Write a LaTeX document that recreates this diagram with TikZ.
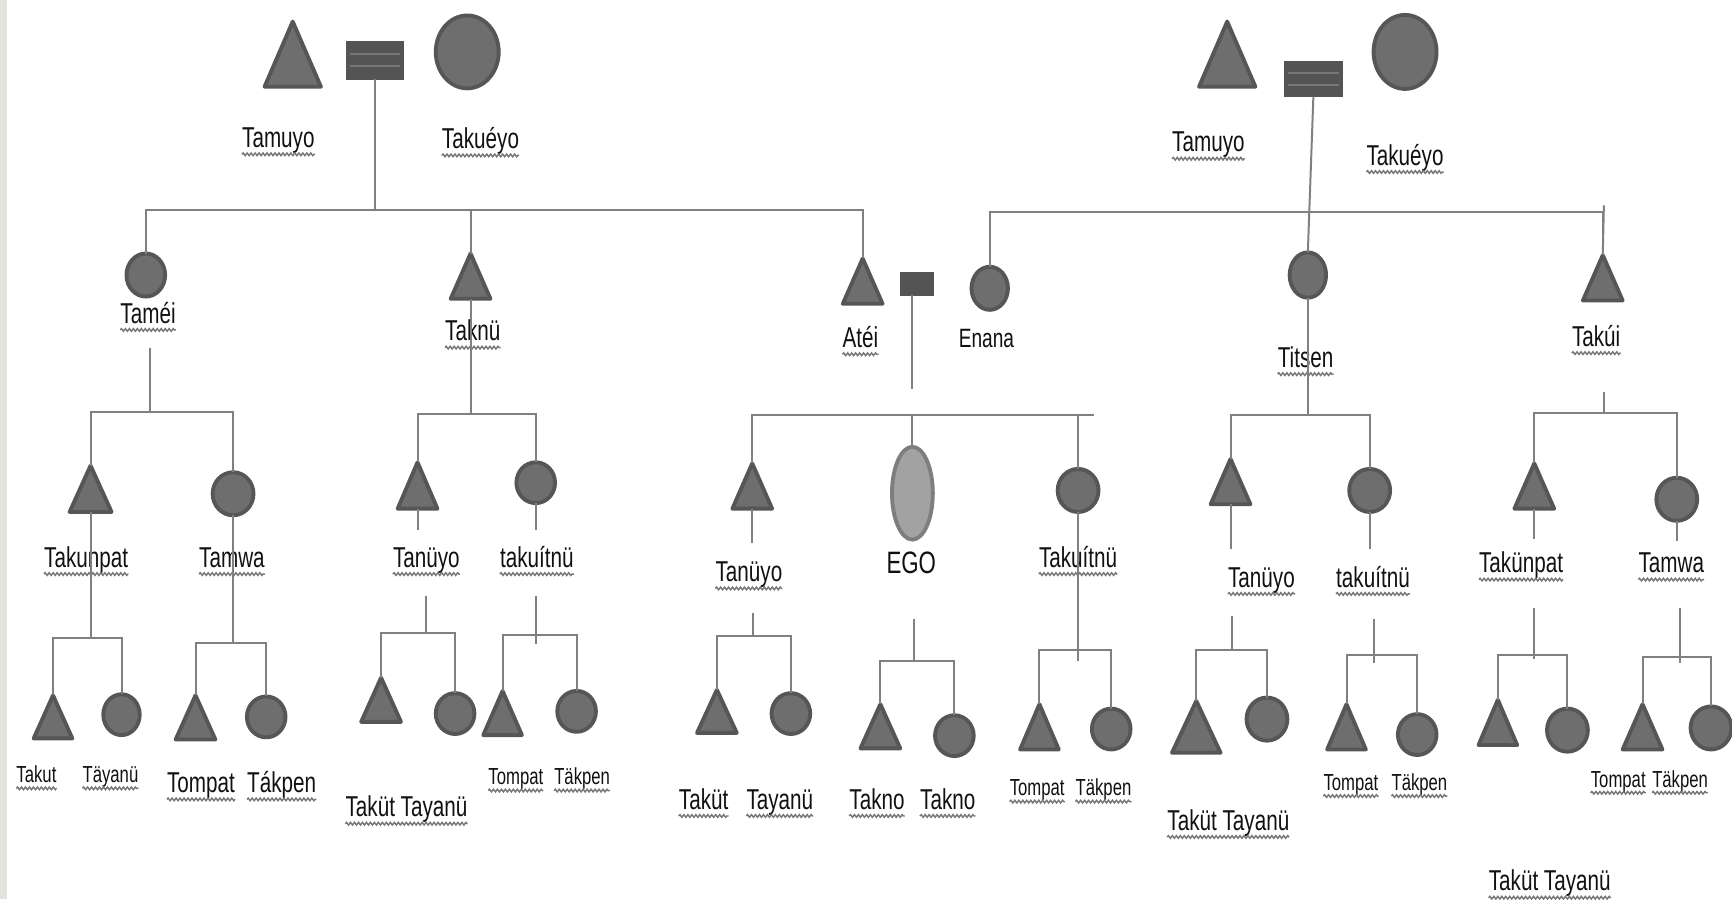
\documentclass[tikz,border=0pt]{standalone}
\usepackage{fontspec}
\setmainfont{Liberation Sans}[FakeStretch=0.72]
\usetikzlibrary{shapes.geometric,decorations.pathmorphing}
\definecolor{shf}{HTML}{6E6E6E}
\definecolor{shd}{HTML}{565656}
\definecolor{lnc}{HTML}{808080}
\definecolor{mrf}{HTML}{545454}
\definecolor{mrl}{HTML}{767676}
\definecolor{egof}{HTML}{A2A2A2}
\definecolor{egod}{HTML}{7E7E7E}
\definecolor{txt}{HTML}{111111}
\definecolor{wav}{HTML}{777777}
\definecolor{strip}{HTML}{E4E4DE}
\newcommand\PTri[5]{\node[pers,minimum width=#4pt,minimum height=#5pt] (#1) at (#2,#3) {};
  \draw[tristy] (#1.south west) -- (#1.north) -- (#1.south east) -- cycle;}
\newcommand\PCir[5]{\node[circ,minimum width=#4pt,minimum height=#5pt] (#1) at (#2,#3) {};}
\newcommand\PFam[3]{\draw[ln] (#2.north) |- (#3.north |- #1) -- (#3.north);}
\begin{document}
\begin{tikzpicture}[x=1pt,y=-1pt,
  pers/.style={rectangle,inner sep=0pt,outer sep=0pt},
  tristy/.style={fill=shf,draw=shd,line width=3.5pt,line join=round},
  circ/.style={ellipse,inner sep=0pt,outer sep=0pt,fill=shf,draw=shd,line width=3.5pt},
  marr/.style={rectangle,inner sep=0pt,outer sep=0pt,fill=mrf,draw=mrf,line width=1pt},
  marrline/.style={draw=mrl,line width=1.8pt},
  ln/.style={draw=lnc,line width=1.8pt},
  wavy/.style={draw=wav,line width=1.3pt,decorate,decoration={snake,amplitude=1.2pt,segment length=3.6pt}},
  lab/.style={font=\fontsize{26}{28}\selectfont,text=txt,inner sep=0pt,text height=18pt,text depth=5pt},
  slab/.style={font=\fontsize{21}{23}\selectfont,text=txt,inner sep=0pt,text height=15pt,text depth=4pt},
  ul/.style={append after command={\pgfextra{\let\ulnode\tikzlastnode}
     ([yshift=-1pt]\ulnode.south west) edge[wavy] ([yshift=-1pt]\ulnode.south east)}},
]
\path[use as bounding box,fill=white] (0,0) rectangle (1568,814);
\fill[strip] (0,0) rectangle (6,814);

% ---------- top-left couple
\PTri{gfL}{265}{49}{51}{59}
\node[marr,minimum width=52pt,minimum height=34pt] (mL) at (339.5,54.5) {};
\draw[marrline] ([xshift=3pt,yshift=5.5pt]mL.west) -- ([xshift=-3pt,yshift=5.5pt]mL.east);
\draw[marrline] ([xshift=3pt,yshift=-5.5pt]mL.west) -- ([xshift=-3pt,yshift=-5.5pt]mL.east);
\PCir{gmL}{423}{47}{57}{66}
\node[lab,ul] (tGfL) at (252,127) {Tamuyo};
\node[lab,ul] (tGmL) at (435,128) {Takuéyo};

% ---------- top-right couple
\PTri{gfR}{1111}{49}{51}{59}
\node[marr,minimum width=52pt,minimum height=32pt] (mR) at (1189,71.5) {};
\draw[marrline] ([xshift=3pt,yshift=5.5pt]mR.west) -- ([xshift=-3pt,yshift=5.5pt]mR.east);
\draw[marrline] ([xshift=3pt,yshift=-5.5pt]mR.west) -- ([xshift=-3pt,yshift=-5.5pt]mR.east);
\PCir{gmR}{1272}{47}{57}{67}
\node[lab,ul] (tGfR) at (1094,131) {Tamuyo};
\node[lab,ul] (tGmR) at (1272,143) {Takuéyo};

% ---------- level 2
\PCir{tamei}{132}{249}{35}{39}
\PTri{taknu}{426}{250}{36}{41}
\PTri{atei}{781}{254.5}{36}{41}
\node[marr,minimum width=30pt,minimum height=21pt] (mC) at (830.5,257) {};
\PCir{enana}{896}{261}{33}{39}
\PCir{titsen}{1184}{249}{33}{41}
\PTri{takui}{1451}{251.5}{36}{41}
\node[lab,ul] (tTamei) at (134,286) {Taméi};
\node[lab,ul] (tTaknu) at (428,302) {Taknü};
\node[lab,ul] (tAtei) at (779,308) {Atéi};
\node[lab,font=\fontsize{24}{26}\selectfont] (tEnana) at (893,308) {Enana};
\node[lab,ul] (tTitsen) at (1182,326) {Titsen};
\node[lab,ul] (tTakui) at (1445,307) {Takúi};

\coordinate (b1) at (339,190);
\draw[ln] (mL.south) -- (mL.south |- b1);
\PFam{b1}{tamei}{atei}
\draw[ln] (taknu.north) -- (taknu.north |- b1);
\coordinate (b2) at (1186,192);
\coordinate (b2s) at (1452,186);
\draw[ln] (mR.south) -- (titsen.north);
\PFam{b2}{enana}{takui}
\draw[ln] (b2s) -- (takui.north);

% ---------- group A (Tamei)
\coordinate (a0) at (136,315); \coordinate (bA) at (136,373);
\draw[ln] (a0) -- (bA);
\PTri{takunpat}{82}{442.5}{38}{42}
\PCir{tamwaA}{211}{447}{37}{39}
\PFam{bA}{takunpat}{tamwaA}
\node[lab,ul] (tTakunpat) at (78,507) {Takunpat};
\node[lab,ul] (tTamwaA) at (210,507) {Tamwa};
\coordinate (bA1) at (82,578);
\draw[ln] (takunpat.south) -- (bA1);
\PTri{takut}{48}{649}{35}{39}
\PCir{tayanuA}{110}{647}{33}{37}
\PFam{bA1}{takut}{tayanuA}
\coordinate (bA2) at (211,582);
\draw[ln] (tamwaA.south) -- (bA2);
\PTri{tompatA}{177}{649.5}{36}{40}
\PCir{takpenA}{241}{649}{35}{37}
\PFam{bA2}{tompatA}{takpenA}
\node[slab,ul] (tTakut) at (33,703) {Takut};
\node[slab,ul] (tTayanuA) at (100,703) {Täyanü};
\node[lab,ul] (tTompatA) at (182,711) {Tompat};
\node[lab,ul] (tTakpenA) at (255,711) {Tákpen};

% ---------- group B (Taknu)
\coordinate (bB) at (426,375);
\draw[ln] (taknu.south) -- (bB);
\PTri{tanuyoB}{378}{439.5}{36}{42}
\PCir{takuitnuB}{485}{437}{35}{37}
\PFam{bB}{tanuyoB}{takuitnuB}
\coordinate (sB1) at (378,480); \coordinate (sB2) at (485,480);
\draw[ln] (tanuyoB.south) -- (sB1);
\draw[ln] (takuitnuB.south) -- (sB2);
\node[lab,ul] (tTanuyoB) at (386,507) {Tanüyo};
\node[lab,ul] (tTakuitnuB) at (486,507) {takuítnü};
\coordinate (vB1) at (386,540); \coordinate (bB1) at (386,573);
\draw[ln] (vB1) -- (bB1);
\PTri{takutB}{345}{633.5}{36}{40}
\PCir{tayanuB}{412}{646}{35}{37}
\PFam{bB1}{takutB}{tayanuB}
\node[lab,ul] (tTakutB) at (368,733) {Taküt Tayanü};
\coordinate (vB2) at (485,540); \coordinate (bB2) at (485,575); \coordinate (vB2e) at (485,583);
\draw[ln] (vB2) -- (vB2e);
\PTri{tompatB}{455}{645.5}{35}{40}
\PCir{takpenB}{522}{644}{35}{37}
\PFam{bB2}{tompatB}{takpenB}
\node[slab,ul] (tTompatB) at (467,705) {Tompat};
\node[slab,ul] (tTakpenB) at (527,705) {Täkpen};

% ---------- group C (Atei + Enana)
\coordinate (cC) at (826,352); \coordinate (bC) at (826,376); \coordinate (bCe) at (990,376);
\draw[ln] (mC.south -| cC) -- (cC);
\PTri{tanuyoC}{681}{440}{36}{41}
\node[circ,fill=egof,draw=egod,minimum width=37pt,minimum height=84pt] (ego) at (826,446.5) {};
\PCir{takuitnuC}{976}{444}{37}{39}
\draw[ln] (tanuyoC.north) |- (bCe);
\draw[ln] (bC) -- (ego.north);
\draw[ln] (takuitnuC.north) -- (takuitnuC.north |- bC);
\coordinate (sC1) at (681,492);
\draw[ln] (tanuyoC.south) -- (sC1);
\node[lab,ul] (tTanuyoC) at (678,520) {Tanüyo};
\node[lab,font=\fontsize{28}{30}\selectfont] (tEgo) at (825,513) {EGO};
\node[lab,ul] (tTakuitnuC) at (976,507) {Takuítnü};
\coordinate (vC1) at (682,555); \coordinate (bC1) at (682,576);
\draw[ln] (vC1) -- (bC1);
\PTri{takutC}{649}{644}{36}{39}
\PCir{tayanuC}{716}{646}{35}{37}
\PFam{bC1}{takutC}{tayanuC}
\node[lab,ul] (tTakutC) at (637,726) {Taküt};
\node[lab,ul] (tTayanuC) at (706,726) {Tayanü};
\coordinate (vC2) at (827,560); \coordinate (bC2) at (827,598);
\draw[ln] (vC2) -- (bC2);
\PTri{takno1}{797}{657.5}{36}{40}
\PCir{takno2}{864}{666}{35}{37}
\PFam{bC2}{takno1}{takno2}
\node[lab,ul] (tTakno1) at (794,726) {Takno};
\node[lab,ul] (tTakno2) at (858,726) {Takno};
\coordinate (bC3) at (976,588); \coordinate (bC3e) at (976,598);
\draw[ln] (takuitnuC.south) -- (bC3e);
\PTri{tompatC}{941}{658}{35}{41}
\PCir{takpenC}{1006}{660}{35}{37}
\PFam{bC3}{tompatC}{takpenC}
\node[slab,ul] (tTompatC) at (939,715) {Tompat};
\node[slab,ul] (tTakpenC) at (999,715) {Täkpen};

% ---------- group D (Titsen)
\coordinate (bD) at (1184,376);
\draw[ln] (titsen.south) -- (bD);
\PTri{tanuyoD}{1114}{436}{36}{41}
\PCir{takuitnuD}{1240}{444}{37}{39}
\PFam{bD}{tanuyoD}{takuitnuD}
\coordinate (sD1) at (1114,497); \coordinate (sD2) at (1240,497);
\draw[ln] (tanuyoD.south) -- (sD1);
\draw[ln] (takuitnuD.south) -- (sD2);
\node[lab,ul] (tTanuyoD) at (1142,525) {Tanüyo};
\node[lab,ul] (tTakuitnuD) at (1243,525) {takuítnü};
\coordinate (vD1) at (1115,558); \coordinate (bD1) at (1115,588);
\draw[ln] (vD1) -- (bD1);
\PTri{takutD}{1083}{658}{44}{47}
\PCir{tayanuD}{1147}{651}{37}{39}
\PFam{bD1}{takutD}{tayanuD}
\node[lab,ul] (tTakutD) at (1112,745) {Taküt Tayanü};
\coordinate (vD2) at (1244,560); \coordinate (bD2) at (1244,593); \coordinate (vD2e) at (1244,600);
\draw[ln] (vD2) -- (vD2e);
\PTri{tompatD}{1219}{658}{35}{41}
\PCir{takpenD}{1283}{665}{35}{37}
\PFam{bD2}{tompatD}{takpenD}
\node[slab,ul] (tTompatD) at (1223,710) {Tompat};
\node[slab,ul] (tTakpenD) at (1285,710) {Täkpen};

% ---------- group E (Takui)
\coordinate (sE0) at (1452,355); \coordinate (bE) at (1452,374);
\draw[ln] (sE0) -- (bE);
\PTri{takunpatE}{1389}{440}{36}{41}
\PCir{tamwaE}{1518}{452}{37}{39}
\PFam{bE}{takunpatE}{tamwaE}
\coordinate (sE1) at (1389,488); \coordinate (sE2) at (1518,490);
\draw[ln] (takunpatE.south) -- (sE1);
\draw[ln] (tamwaE.south) -- (sE2);
\node[lab,ul] (tTakunpatE) at (1377,512) {Takünpat};
\node[lab,ul] (tTamwaE) at (1513,512) {Tamwa};
\coordinate (vE1) at (1389,550); \coordinate (bE1) at (1389,593); \coordinate (vE1e) at (1389,597);
\draw[ln] (vE1) -- (vE1e);
\PTri{takutE}{1356}{654}{35}{41}
\PCir{tayanuE}{1419}{661}{37}{39}
\PFam{bE1}{takutE}{tayanuE}
\node[lab,ul] (tTakutE) at (1403,800) {Taküt Tayanü};
\coordinate (vE2) at (1521,550); \coordinate (bE2) at (1521,595); \coordinate (vE2e) at (1521,600);
\draw[ln] (vE2) -- (vE2e);
\PTri{tompatE}{1487}{658}{36}{41}
\PCir{takpenE}{1549}{659}{37}{39}
\PFam{bE2}{tompatE}{takpenE}
\node[slab,ul] (tTompatE) at (1465,707) {Tompat};
\node[slab,ul] (tTakpenE) at (1521,707) {Täkpen};
\end{tikzpicture}
\end{document}
